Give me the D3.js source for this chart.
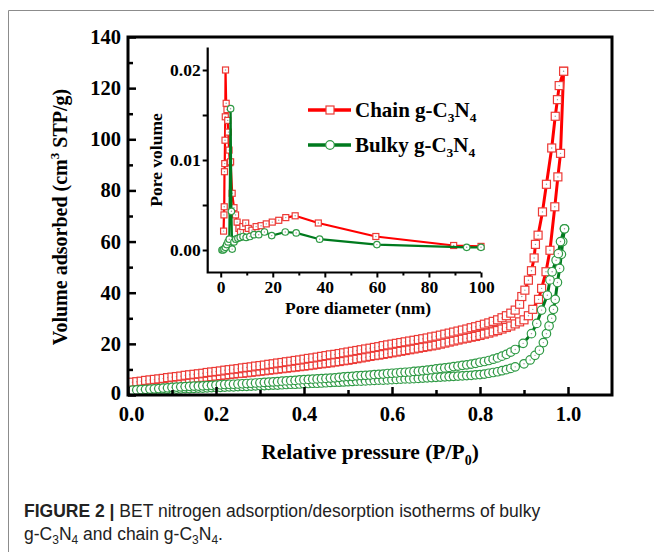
<!DOCTYPE html>
<html>
<head>
<meta charset="utf-8">
<script src="https://cdnjs.cloudflare.com/ajax/libs/d3/7.8.5/d3.min.js"></script>
<style>
  body { margin: 0; background: #fff; }
  svg { display: block; }
</style>
</head>
<body>
<script>
// ---- data ----
// relative pressure grid for the low-pressure part of every branch
const pLow = [0.01,0.02,0.03,0.04,0.05,0.06,0.07,0.08,0.09,0.10,
  0.11,0.12,0.13,0.14,0.15,0.16,0.17,0.18,0.19,0.20,
  0.21,0.22,0.23,0.24,0.25,0.26,0.27,0.28,0.29,0.30,
  0.31,0.32,0.33,0.34,0.35,0.36,0.37,0.38,0.39,0.40,
  0.41,0.42,0.43,0.44,0.45,0.46,0.47,0.48,0.49,0.50,
  0.51,0.52,0.53,0.54,0.55,0.56,0.57,0.58,0.59,0.60,
  0.61,0.62,0.63,0.64,0.65,0.66,0.67,0.68,0.69,0.70,
  0.71,0.72,0.73,0.74,0.75,0.76,0.77,0.78,0.79,0.80,
  0.81,0.82,0.83,0.84,0.85,0.86,0.87,0.88];

// chain g-C3N4, adsorption branch
const chainAdsLow = [3.8,4.0,4.2,4.4,4.6,4.8,5.0,5.1,5.3,5.5,
  5.7,5.9,6.1,6.3,6.5,6.7,6.9,7.0,7.2,7.4,
  7.6,7.8,8.0,8.2,8.4,8.5,8.7,8.9,9.1,9.3,
  9.5,9.7,9.9,10.1,10.3,10.5,10.7,10.9,11.1,11.3,
  11.5,11.7,12.0,12.2,12.4,12.6,12.9,13.1,13.4,13.6,
  13.9,14.2,14.5,14.8,15.1,15.4,15.6,15.9,16.2,16.5,
  16.8,17.1,17.4,17.7,18.0,18.3,18.6,18.9,19.2,19.5,
  19.9,20.3,20.7,21.1,21.5,21.9,22.2,22.6,22.9,23.3,
  23.8,24.2,24.7,25.2,25.8,26.4,27.0,27.8];
const chainAdsTailP = [0.89,0.90,0.91,0.92,0.933,0.94,0.95,0.959,0.97,0.977,0.983,0.99];
const chainAdsTailV = [28.6,29.4,31.0,33.5,37.4,41.7,48.2,56.6,73.6,85.3,94.5,126.6];

// chain g-C3N4, desorption branch
const chainDesLow = [5.0,5.2,5.4,5.7,5.9,6.1,6.3,6.5,6.8,7.0,
  7.2,7.4,7.7,7.9,8.1,8.3,8.5,8.8,9.0,9.2,
  9.4,9.7,9.9,10.1,10.3,10.6,10.8,11.0,11.3,11.5,
  11.7,12.0,12.2,12.5,12.7,13.0,13.2,13.5,13.7,14.0,
  14.3,14.5,14.8,15.1,15.4,15.7,15.9,16.2,16.5,16.8,
  17.1,17.4,17.7,18.0,18.3,18.6,18.9,19.3,19.6,19.9,
  20.2,20.5,20.8,21.1,21.4,21.7,22.0,22.3,22.7,23.0,
  23.4,23.8,24.2,24.6,25.0,25.4,25.8,26.3,26.7,27.2,
  27.7,28.2,28.8,29.4,30.2,31.0,32.0,33.2];
const chainDesTailP = [0.89,0.895,0.902,0.91,0.917,0.923,0.926,0.932,0.942,0.951,0.963,0.971,0.976,0.98,0.99];
const chainDesTailV = [35.5,38.5,41.0,44.9,48.6,53.6,58.9,62.5,71.6,82.4,96.6,109,115.5,121,126.6];

// bulky g-C3N4, adsorption branch
const bulkyAdsLow = [1.6,1.7,1.8,1.8,1.9,2.0,2.0,2.1,2.2,2.3,
  2.3,2.4,2.5,2.5,2.6,2.7,2.7,2.8,2.9,3.0,
  3.0,3.1,3.2,3.2,3.3,3.4,3.4,3.5,3.6,3.7,
  3.7,3.8,3.9,3.9,4.0,4.1,4.2,4.2,4.3,4.4,
  4.5,4.6,4.6,4.7,4.8,4.9,5.0,5.0,5.1,5.2,
  5.3,5.4,5.4,5.5,5.6,5.7,5.8,5.8,5.9,6.0,
  6.1,6.2,6.3,6.3,6.4,6.5,6.6,6.7,6.8,6.9,
  7.0,7.1,7.2,7.3,7.4,7.5,7.6,7.7,7.9,8.0,
  8.2,8.5,8.8,9.1,9.5,9.9,10.4,11.0];
const bulkyAdsTailP = [0.90,0.914,0.925,0.935,0.944,0.951,0.957,0.963,0.967,0.971,0.976,0.981,0.985,0.988,0.992];
const bulkyAdsTailV = [12.2,13.7,15.5,17.5,20.5,24.0,27.0,30.0,33.5,37.4,44.0,49.5,55.0,60.0,65.0];

// bulky g-C3N4, desorption branch
const bulkyDesLow = [1.9,2.0,2.1,2.2,2.3,2.4,2.5,2.7,2.8,3.0,
  3.1,3.2,3.3,3.4,3.5,3.5,3.6,3.7,3.8,3.9,
  4.0,4.1,4.2,4.2,4.3,4.4,4.5,4.6,4.7,4.8,
  4.9,5.0,5.1,5.2,5.4,5.5,5.6,5.7,5.9,6.0,
  6.1,6.2,6.3,6.4,6.5,6.6,6.7,6.9,7.1,7.2,
  7.3,7.5,7.6,7.7,7.8,8.0,8.1,8.2,8.4,8.5,
  8.6,8.8,8.9,9.0,9.2,9.3,9.5,9.7,9.9,10.2,
  10.4,10.6,10.8,11.1,11.3,11.6,11.8,12.1,12.4,12.8,
  13.1,13.5,14.0,14.5,15.2,15.9,16.8,17.8];
const bulkyDesTailP = [0.898,0.917,0.929,0.94,0.953,0.959,0.964,0.973,0.978,0.983,0.992];
const bulkyDesTailV = [20.2,24.0,28.0,33.2,39.0,45.0,48.2,52.7,55.3,60.0,65.0];

// inset: pore size distribution
const chainPoreD = [1.1,1.25,1.35,1.45,1.55,1.65,1.75,1.85,2.1,2.4,2.7,2.95,3.2,3.5,3.8,4.4,5.1,5.7,6.3,7.0,7.6,8.5,9.6,10.6,12.0,13.6,15.5,17.5,19.8,22.3,25.0,28.6,37.5,59.6,89.5,100];
const chainPoreV = [0.0021,0.0039,0.0048,0.0087,0.0096,0.0122,0.0148,0.0200,0.0163,0.0156,0.0144,0.0131,0.0111,0.0097,0.0098,0.0063,0.0047,0.0039,0.0031,0.0024,0.0020,0.0026,0.0030,0.0024,0.0022,0.0026,0.0027,0.0029,0.0031,0.0033,0.0036,0.0038,0.0030,0.0015,0.0005,0.0004];
const bulkyPoreD = [0.5,0.9,1.3,1.8,2.3,2.8,3.3,3.8,4.1,4.4,5.1,5.8,6.6,7.5,8.6,9.8,11.2,12.8,14.6,16.8,19.6,24.8,29.0,38.0,60.0,94.5,100];
const bulkyPoreV = [0.0000,0.0000,0.0001,0.0003,0.0006,0.0009,0.0012,0.0157,0.0043,0.0001,0.0009,0.0012,0.0013,0.0014,0.0015,0.0014,0.0015,0.0017,0.0017,0.0020,0.0016,0.0020,0.0019,0.0012,0.0006,0.0003,0.0003];

// tick labels
const mainXTicks = [0, 0.2, 0.4, 0.6, 0.8, 1.0];
const mainYTicks = [0, 20, 40, 60, 80, 100, 120, 140];
const insetXTicks = [0, 20, 40, 60, 80, 100];
const insetYTicks = [0, 0.01, 0.02];

const seriesNames = ["Chain g-C", "Bulky g-C"];

// ---- setup ----
const width = 654, height = 552;
const RED = "#ff0000", RED_M = "#ec3a36", GREEN = "#007a1e", GREEN_M = "#2f9a45";
const serif = "'Liberation Serif','Times New Roman',serif";

const svg = d3.select("body").append("svg")
  .attr("width", width).attr("height", height);

// page border
svg.append("path").attr("d", "M8.5,552 V10.5 H654")
  .attr("fill", "none").attr("stroke", "#8c8c8c").attr("stroke-width", 1);

const x = d3.scaleLinear().domain([0, 1.1]).range([128, 612]);
const y = d3.scaleLinear().domain([0, 140]).range([395, 37]);

const zip = (ps, vs) => ps.map((p, i) => [p, vs[i]]);
const chainAds = zip(pLow, chainAdsLow).concat(zip(chainAdsTailP, chainAdsTailV));
const chainDes = zip(pLow, chainDesLow).concat(zip(chainDesTailP, chainDesTailV));
const bulkyAds = zip(pLow, bulkyAdsLow).concat(zip(bulkyAdsTailP, bulkyAdsTailV));
const bulkyDes = zip(pLow, bulkyDesLow).concat(zip(bulkyDesTailP, bulkyDesTailV));

function drawSeries(g, data, sx, sy, lineColor, markColor, shape, size, lw) {
  const line = d3.line().x(d => sx(d[0])).y(d => sy(d[1]));
  g.append("path").datum(data).attr("d", line)
    .attr("fill", "none").attr("stroke", lineColor).attr("stroke-width", lw)
    .attr("stroke-linejoin", "round");
  const m = g.append("g");
  data.forEach(d => {
    const cx = sx(d[0]), cy = sy(d[1]);
    if (shape === "square") {
      m.append("rect").attr("x", cx - size / 2).attr("y", cy - size / 2)
        .attr("width", size).attr("height", size)
        .attr("fill", "#fff").attr("stroke", markColor).attr("stroke-width", 1.2);
    } else {
      m.append("circle").attr("cx", cx).attr("cy", cy).attr("r", size / 2)
        .attr("fill", "#fff").attr("stroke", markColor).attr("stroke-width", 1.2);
    }
    m.append("circle").attr("cx", cx).attr("cy", cy).attr("r", 0.7).attr("fill", "#999");
  });
}

// ---- main isotherms ----
const main = svg.append("g");
drawSeries(main, chainAds, x, y, RED, RED_M, "square", 8, 3);
drawSeries(main, chainDes, x, y, RED, RED_M, "square", 8, 3);
drawSeries(main, bulkyAds, x, y, GREEN, GREEN_M, "circle", 8.5, 3);
drawSeries(main, bulkyDes, x, y, GREEN, GREEN_M, "circle", 8.5, 3);

// main axes (inward ticks)
const yAxis = svg.append("g").attr("transform", "translate(128,0)")
  .call(d3.axisLeft(y).tickValues(mainYTicks).tickSize(-8).tickPadding(7).tickFormat(d3.format("d")));
svg.append("g").attr("transform", "translate(128,0)")
  .call(d3.axisLeft(y).tickValues([10,30,50,70,90,110,130]).tickSize(-5).tickFormat(""));
const xAxis = svg.append("g").attr("transform", "translate(0,395)")
  .call(d3.axisBottom(x).tickValues(mainXTicks).tickSize(-8).tickPadding(11).tickFormat(d3.format(".1f")));
svg.append("g").attr("transform", "translate(0,395)")
  .call(d3.axisBottom(x).tickValues([0.1,0.3,0.5,0.7,0.9]).tickSize(-5).tickFormat(""));
svg.selectAll(".domain").remove();
svg.selectAll(".tick line").attr("stroke", "#000").attr("stroke-width", 2.5);
[yAxis, xAxis].forEach(a => a.selectAll("text")
  .attr("font-family", serif).attr("font-weight", "bold").attr("font-size", 20.5).attr("fill", "#000"));
// lift the "0" of the y axis slightly so it clears the "0.0" below it
yAxis.selectAll(".tick").filter(d => d === 0).select("text").attr("dy", "0.2em");
xAxis.selectAll(".tick").filter(d => d === 0).select("text").attr("dx", "0.15em");

// frame
svg.append("rect").attr("x", 128).attr("y", 37).attr("width", 612 - 128).attr("height", 395 - 37)
  .attr("fill", "none").attr("stroke", "#000").attr("stroke-width", 3);

// axis titles
const yt = svg.append("text").attr("transform", "translate(67,217) rotate(-90)")
  .attr("text-anchor", "middle").attr("font-family", serif).attr("font-weight", "bold")
  .attr("font-size", 20);
yt.append("tspan").text("Volume adsorbed (cm");
yt.append("tspan").attr("font-size", 13).attr("dy", -8).text("3");
yt.append("tspan").attr("dy", 8).text(" STP/g)");

const xt = svg.append("text").attr("x", 370).attr("y", 459)
  .attr("text-anchor", "middle").attr("font-family", serif).attr("font-weight", "bold")
  .attr("font-size", 21.5);
xt.append("tspan").text("Relative pressure (P/P");
xt.append("tspan").attr("font-size", 14).attr("dy", 6).text("0");
xt.append("tspan").attr("dy", -6).text(")");

// ---- inset ----
const xi = d3.scaleLinear().domain([-5, 100]).range([207.7, 481]);
const yi = d3.scaleLinear().domain([-0.0025, 0.0225]).range([272.5, 47.5]);
const inset = svg.append("g");
drawSeries(inset, zip(chainPoreD, chainPoreV), xi, yi, RED, RED_M, "square", 6, 2.2);
drawSeries(inset, zip(bulkyPoreD, bulkyPoreV), xi, yi, GREEN, GREEN_M, "circle", 6.5, 2.2);

const iy = inset.append("g").attr("transform", "translate(207.7,0)")
  .call(d3.axisLeft(yi).tickValues(insetYTicks).tickSize(5).tickPadding(2).tickFormat(d3.format(".2f")));
inset.append("g").attr("transform", "translate(207.7,0)")
  .call(d3.axisLeft(yi).tickValues([0.005, 0.015]).tickSize(5).tickFormat(""));
const ix = inset.append("g").attr("transform", "translate(0,272.5)")
  .call(d3.axisBottom(xi).tickValues(insetXTicks).tickSize(5).tickPadding(3).tickFormat(d3.format("d")));
inset.append("g").attr("transform", "translate(0,272.5)")
  .call(d3.axisBottom(xi).tickValues([10,30,50,70,90]).tickSize(3).tickFormat(""));
inset.selectAll(".domain").remove();
inset.selectAll(".tick line").attr("stroke", "#000").attr("stroke-width", 2);
[iy, ix].forEach(a => a.selectAll("text")
  .attr("font-family", serif).attr("font-weight", "bold").attr("font-size", 17.5).attr("fill", "#000"));
inset.append("path").attr("d", "M207.7,47.5 V272.5 H481")
  .attr("fill", "none").attr("stroke", "#000").attr("stroke-width", 2.2);

inset.append("text").attr("transform", "translate(162,160) rotate(-90)")
  .attr("text-anchor", "middle").attr("font-family", serif).attr("font-weight", "bold")
  .attr("font-size", 17.5).text("Pore volume");
inset.append("text").attr("x", 358).attr("y", 314)
  .attr("text-anchor", "middle").attr("font-family", serif).attr("font-weight", "bold")
  .attr("font-size", 17.5).text("Pore diameter (nm)");

// legend
const legend = svg.append("g");
seriesNames.forEach((name, i) => {
  const ly = 110 + i * 35;
  const col = i === 0 ? RED : GREEN, mc = i === 0 ? RED_M : GREEN_M;
  legend.append("line").attr("x1", 308).attr("x2", 351).attr("y1", ly).attr("y2", ly)
    .attr("stroke", col).attr("stroke-width", 3.5);
  if (i === 0) {
    legend.append("rect").attr("x", 326).attr("y", ly - 4).attr("width", 8).attr("height", 8)
      .attr("fill", "#fff").attr("stroke", mc).attr("stroke-width", 1.2);
  } else {
    legend.append("circle").attr("cx", 330).attr("cy", ly).attr("r", 4.3)
      .attr("fill", "#fff").attr("stroke", mc).attr("stroke-width", 1.2);
  }
  const t = legend.append("text").attr("x", 355).attr("y", ly + 7)
    .attr("font-family", serif).attr("font-weight", "bold").attr("font-size", 21);
  t.append("tspan").text(name);
  t.append("tspan").attr("font-size", 13.5).attr("dy", 5).text("3");
  t.append("tspan").attr("dy", -5).text("N");
  t.append("tspan").attr("font-size", 13.5).attr("dy", 5).text("4");
});

// ---- caption ----
const sans = "'Liberation Sans',Arial,sans-serif";
const c1 = svg.append("text").attr("x", 24).attr("y", 517)
  .attr("font-family", sans).attr("font-size", 17.5).attr("fill", "#222");
c1.append("tspan").attr("font-weight", "bold").text("FIGURE 2 | ");
c1.append("tspan").text("BET nitrogen adsorption/desorption isotherms of bulky");
const c2 = svg.append("text").attr("x", 24).attr("y", 540)
  .attr("font-family", sans).attr("font-size", 17.5).attr("fill", "#222");
c2.append("tspan").text("g-C");
c2.append("tspan").attr("font-size", 12).attr("dy", 4).text("3");
c2.append("tspan").attr("dy", -4).text("N");
c2.append("tspan").attr("font-size", 12).attr("dy", 4).text("4");
c2.append("tspan").attr("dy", -4).text(" and chain g-C");
c2.append("tspan").attr("font-size", 12).attr("dy", 4).text("3");
c2.append("tspan").attr("dy", -4).text("N");
c2.append("tspan").attr("font-size", 12).attr("dy", 4).text("4");
c2.append("tspan").attr("dy", -4).text(".");
</script>
</body>
</html>
